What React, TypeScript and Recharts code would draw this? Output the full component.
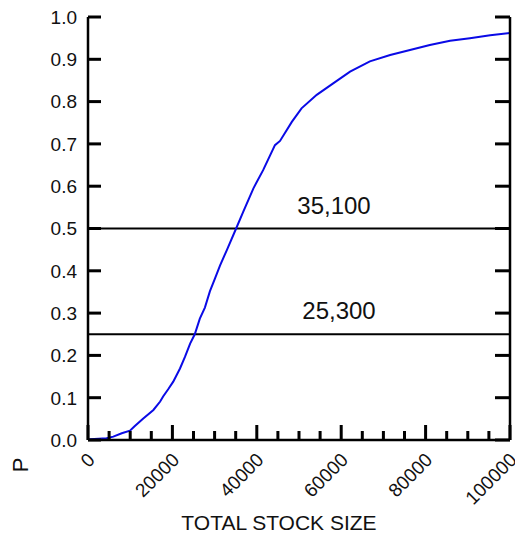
import React from 'react';
import { LineChart, Line, XAxis, YAxis, ReferenceLine } from 'recharts';

// cumulative probability of total stock size
const stockSize = [
  0, 500, 2500, 4400, 6000, 8000, 9950, 11100, 13100, 15500, 17100, 17800, 19000, 20200,
  21800, 23000, 24200, 25300, 26500, 27700, 28900, 30100, 31300, 32900, 35100, 36800,
  39200, 41500, 44300, 45500, 48300, 50600, 54200, 58100, 62100, 66800, 71600, 76300,
  81000, 85800, 90500, 95300, 100000,
];
const probability = [
  0, 0.002, 0.003, 0.004, 0.008, 0.016, 0.022, 0.033, 0.051, 0.071, 0.091, 0.103, 0.12, 0.138,
  0.169, 0.197, 0.228, 0.25, 0.287, 0.313, 0.352, 0.382, 0.413, 0.449, 0.5, 0.54,
  0.595, 0.638, 0.697, 0.707, 0.752, 0.784, 0.816, 0.843, 0.871, 0.895, 0.91, 0.922,
  0.934, 0.944, 0.95, 0.957, 0.962,
];

const xTicks = [
  0, 5000, 10000, 15000, 20000, 25000, 30000, 35000, 40000, 45000, 50000,
  55000, 60000, 65000, 70000, 75000, 80000, 85000, 90000, 95000, 100000,
];
const xMajorTicks = [0, 20000, 40000, 60000, 80000, 100000];
const yTicks = [0, 0.1, 0.2, 0.3, 0.4, 0.5, 0.6, 0.7, 0.8, 0.9, 1.0];

// quantile markers: [P level, stock size label]
const quantiles: [number, string][] = [
  [0.5, '35,100'],
  [0.25, '25,300'],
];

const data = stockSize.map((x, i) => ({ x, p: probability[i] }));

const FONT = '"Liberation Sans", Arial, sans-serif';
const TICK_W = 3;

// inward tick marks are filled rects; labels only on the major x ticks
const renderXTick = (props: any) => {
  const { x, y, payload } = props;
  const major = xMajorTicks.includes(payload.value);
  const len = major ? 15 : 9;
  const tx = x + 8;
  const ty = y + 21;
  return (
    <g key={`xt-${payload.value}`}>
      <rect x={x - TICK_W / 2} y={y - len} width={TICK_W} height={len} fill="#000" />
      {major && (
        <text x={tx} y={ty} transform={`rotate(-45 ${tx} ${ty})`} textAnchor="end"
          fontSize={19} fontFamily={FONT} fill="#111">
          {payload.value}
        </text>
      )}
    </g>
  );
};

const renderYTickLeft = (props: any) => {
  const { x, y, payload } = props;
  return (
    <g key={`yl-${payload.value}`}>
      <rect x={x} y={y - TICK_W / 2} width={13} height={TICK_W} fill="#000" />
      <text x={x - 11} y={y} dy="0.36em" textAnchor="end" fontSize={19} fontFamily={FONT} fill="#111">
        {payload.value.toFixed(1)}
      </text>
    </g>
  );
};

const renderYTickRight = (props: any) => {
  const { x, y, payload } = props;
  return (
    <rect key={`yr-${payload.value}`} x={x - 15} y={y - TICK_W / 2} width={15} height={TICK_W} fill="#000" />
  );
};

export default function App() {
  return (
    <LineChart width={515} height={529} data={data} margin={{ top: 9, right: 8, left: 0, bottom: 0 }}>
      <XAxis
        dataKey="x"
        type="number"
        domain={[0, 100000]}
        ticks={xTicks}
        interval={0}
        tickSize={0}
        tickMargin={0}
        tickLine={false}
        tick={renderXTick}
        height={97}
        axisLine={{ stroke: '#000', strokeWidth: 2.5 }}
        label={{
          content: (p: any) => (
            <text x={p.viewBox.x + p.viewBox.width / 2 - 20} y={p.viewBox.y + 90} textAnchor="middle"
              fontSize={21} fontFamily={FONT} fill="#111">
              TOTAL STOCK SIZE
            </text>
          ),
        }}
      />
      <YAxis
        type="number"
        domain={[0, 1]}
        ticks={yTicks}
        interval={0}
        width={80}
        tickSize={0}
        tickMargin={0}
        tickLine={false}
        tick={renderYTickLeft}
        axisLine={{ stroke: '#000', strokeWidth: 2.5 }}
        label={{
          content: (p: any) => {
            const lx = 20;
            const ly = p.viewBox.y + p.viewBox.height + 25;
            return (
              <text x={lx} y={ly} transform={`rotate(-90 ${lx} ${ly})`} textAnchor="middle"
                fontSize={22} fontFamily={FONT} fill="#111">
                P
              </text>
            );
          },
        }}
      />
      <YAxis
        yAxisId="right"
        orientation="right"
        type="number"
        domain={[0, 1]}
        allowDataOverflow
        ticks={yTicks}
        interval={0}
        width={5}
        tickSize={0}
        tickMargin={0}
        tickLine={false}
        tick={renderYTickRight}
        axisLine={{ stroke: '#000', strokeWidth: 2.5 }}
      />
      {quantiles.map(([level, text], i) => (
        <ReferenceLine
          key={text}
          y={level}
          stroke="#000"
          strokeWidth={2}
          label={{
            value: text,
            position: 'top',
            dx: i === 0 ? 35 : 40,
            offset: 15,
            fontSize: 24,
            fontFamily: FONT,
            fill: '#111',
          }}
        />
      ))}
      <Line
        type="linear"
        dataKey="p"
        stroke="#0a0ae6"
        strokeWidth={2}
        dot={false}
        isAnimationActive={false}
      />
    </LineChart>
  );
}
